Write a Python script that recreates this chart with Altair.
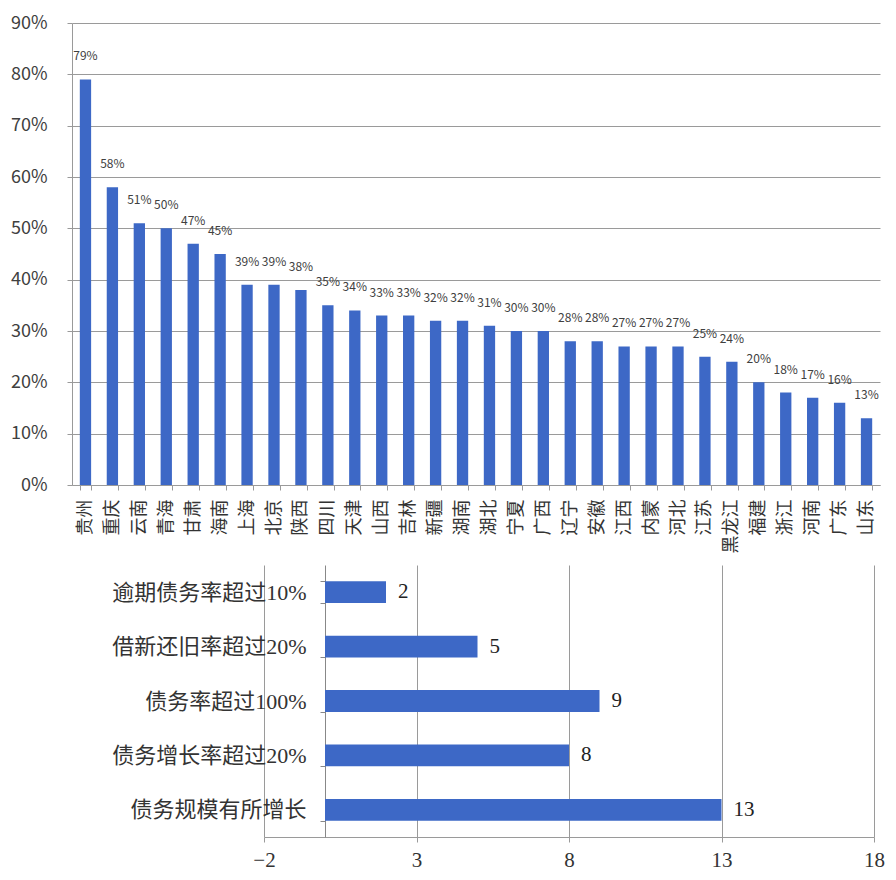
import altair as alt
import pandas as pd

# ---- data: upper chart ----
provinces = ["贵州", "重庆", "云南", "青海", "甘肃", "海南", "上海", "北京", "陕西", "四川",
             "天津", "山西", "吉林", "新疆", "湖南", "湖北", "宁夏", "广西", "辽宁", "安徽",
             "江西", "内蒙", "河北", "江苏", "黑龙江", "福建", "浙江", "河南", "广东", "山东"]
ratios = [79, 58, 51, 50, 47, 45, 39, 39, 38, 35,
          34, 33, 33, 32, 32, 31, 30, 30, 28, 28,
          27, 27, 27, 25, 24, 20, 18, 17, 16, 13]
y_ticks = [0, 10, 20, 30, 40, 50, 60, 70, 80, 90]

# ---- data: lower chart ----
indicators = ["逾期债务率超过10%", "借新还旧率超过20%", "债务率超过100%",
              "债务增长率超过20%", "债务规模有所增长"]
counts = [2, 5, 9, 8, 13]
x_ticks = [-2, 3, 8, 13, 18]

FONT = "Noto Sans CJK SC"
SERIF = "Liberation Serif, Noto Sans CJK SC"
BLUE = "#3D68C6"
GRID = "#9a9a9a"

top_df = pd.DataFrame({"province": provinces, "ratio": ratios})
tb = alt.Chart(top_df).transform_calculate(label="datum.ratio + '%'")

x_top = alt.X(
    "province:N", sort=provinces, title=None,
    scale=alt.Scale(paddingInner=0.58, paddingOuter=0.29),
    axis=alt.Axis(labelAngle=-90, tickBand="extent", labelFont=FONT, labelFontSize=18,
                  labelColor="#333333", domainColor=GRID, tickColor=GRID, tickSize=5,
                  labelPadding=9, grid=False),
)
y_top = alt.Y(
    "ratio:Q", title=None, scale=alt.Scale(domain=[0, 90], nice=False),
    axis=alt.Axis(values=y_ticks, labelExpr="datum.value + '%'", grid=True, gridColor=GRID,
                  domainColor=GRID, tickColor=GRID, tickSize=5, labelPadding=20,
                  labelFont=FONT, labelFontSize=18, labelColor="#404040"),
)

top_bars = tb.mark_bar(color=BLUE).encode(x=x_top, y=y_top)
top_text = tb.mark_text(font=FONT, fontSize=12, color="#404040", baseline="bottom", dy=-16).encode(
    x=x_top, y=y_top, text=alt.Text("label:N")
)
top = alt.layer(top_bars, top_text).properties(width=808, height=462)

bot_df = pd.DataFrame({"indicator": indicators, "count": counts})
bb = alt.Chart(bot_df)

y_bot = alt.Y(
    "indicator:N", sort=indicators, title=None,
    scale=alt.Scale(paddingInner=0.6, paddingOuter=0.3),
    axis=alt.Axis(offset=-61, tickBand="extent", labelFont=SERIF, labelFontSize=22,
                  labelColor="#333333", labelPadding=14, labelLimit=0, domainColor="#888888",
                  tickColor="#888888", tickSize=5, grid=False),
)
x_bot = alt.X(
    "count:Q", title=None, scale=alt.Scale(domain=[-2, 18], nice=False, zero=False),
    axis=alt.Axis(values=x_ticks, grid=True, gridColor=GRID, domainColor=GRID,
                  tickColor=GRID, tickSize=5, labelFont=SERIF, labelFontSize=21,
                  labelColor="#333333", labelPadding=7, labelFlush=False),
)

bot_bars = bb.mark_bar(color=BLUE).encode(x=x_bot, y=y_bot)
bot_text = bb.mark_text(font=SERIF, fontSize=21, color="#222222", align="left", dx=12).encode(
    x=x_bot, y=y_bot, text=alt.Text("count:Q"),
)
bottom = alt.layer(bot_bars, bot_text).properties(width=610, height=272)

spacer = alt.Chart(pd.DataFrame({"v": [0]})).mark_point(opacity=0).encode(
    x=alt.value(0), y=alt.value(0)
).properties(width=182, height=272)

chart = alt.vconcat(
    top,
    alt.hconcat(spacer, bottom, spacing=10, bounds="flush"),
    spacing=80,
    bounds="flush",
).properties(
    padding={"left": 2, "top": 6, "right": 0, "bottom": 0}
).configure_view(strokeWidth=0)

chart.save("out.html", embed_options={"renderer": "svg", "actions": False})
